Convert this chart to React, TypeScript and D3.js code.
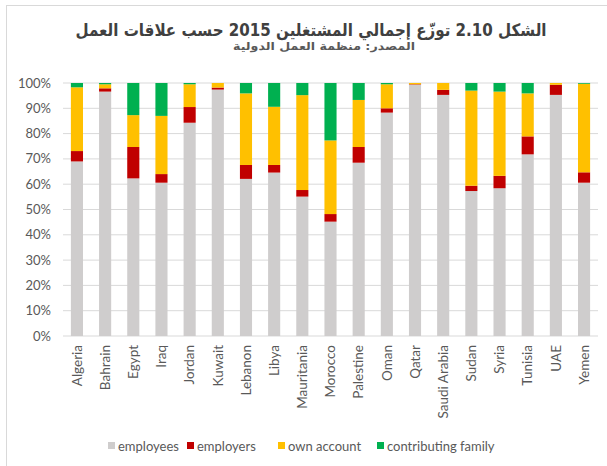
import React from "react";
import * as d3 from "d3";

const categories = ["Algeria","Bahrain","Egypt","Iraq","Jordan","Kuwait","Lebanon","Libya","Mauritania","Morocco","Palestine","Oman","Qatar","Saudi Arabia","Sudan","Syria","Tunisia","UAE","Yemen"];
const employees = [69.0,96.6,62.3,60.6,84.3,97.4,62.1,64.6,55.1,45.2,68.5,88.3,99.3,95.3,57.3,58.4,71.8,95.3,60.6];
const employers = [4.1,1.3,12.4,3.4,6.2,0.8,5.5,3.0,2.6,3.0,6.2,1.7,0.2,2.0,2.1,4.9,7.1,4.0,4.1];
const ownAccount = [25.2,1.6,12.6,23.0,9.0,1.8,28.3,23.0,37.5,29.1,18.6,9.5,0.5,2.7,37.6,33.3,17.0,0.7,35.0];
const contributingFamily = [1.7,0.5,12.7,13.0,0.5,0.0,4.1,9.4,4.8,22.7,6.7,0.5,0.0,0.0,3.0,3.4,4.1,0.0,0.3];
const seriesNames = ["employees","employers","own account","contributing family"];
const seriesColors = ["#CFCDCD","#C00000","#FFC000","#00B050"];
const yTicks = [0,10,20,30,40,50,60,70,80,90,100];
const titleText = "الشكل 2.10 توزّع إجمالي المشتغلين 2015 حسب علاقات العمل";
const subtitleText = "المصدر: منظمة العمل الدولية";

const W = 607, H = 466;

export default function App() {
  const x = d3.scaleBand<string>().domain(categories).range([63, 598]).paddingInner(0.57).paddingOuter(0.28);
  const y = d3.scaleLinear().domain([0, 100]).range([336, 83]);
  const rows = categories.map((c, i) => ({
    cat: c,
    employees: employees[i],
    employers: employers[i],
    "own account": ownAccount[i],
    "contributing family": contributingFamily[i],
  }));
  const stacked = d3.stack<any>().keys(seriesNames)(rows);
  const textColor = "#595959";
  const font = "Lato, 'Open Sans', sans-serif";
  const legendX = [108, 187, 278, 377];
  return (
    <div>
      <style>{`body{margin:0;}`}</style>
      <svg width={W} height={H} style={{ display: "block", background: "#fff" }}>
        <rect x={6.5} y={5.5} width={W + 10} height={H + 10} fill="#fff" stroke="#D9D9D9" strokeWidth={1} />
        <text x={311} y={36} textAnchor="middle" direction="rtl" textLength={471} lengthAdjust="spacingAndGlyphs" fontFamily="'DejaVu Sans', sans-serif" fontWeight="bold" fontSize={17} fill="#404040">{titleText}</text>
        <text x={324} y={50} textAnchor="middle" direction="rtl" textLength={182} lengthAdjust="spacingAndGlyphs" fontFamily="'DejaVu Sans', sans-serif" fontWeight="bold" fontSize={11} fill="#595959">{subtitleText}</text>
        {yTicks.map((t) => (
          <g key={t}>
            <line x1={63} x2={598} y1={y(t)} y2={y(t)} stroke="#D9D9D9" strokeWidth={1} />
            <text x={51} y={y(t)} dy="0.35em" textAnchor="end" fontFamily={font} fontSize={13} fill={textColor}>{t}%</text>
          </g>
        ))}
        {stacked.map((s, si) => (
          <g key={s.key} fill={seriesColors[si]}>
            {s.map((d, i) => (
              <rect key={i} x={x(categories[i])} width={x.bandwidth()} y={y(d[1])} height={Math.max(0, y(d[0]) - y(d[1]))} />
            ))}
          </g>
        ))}
        {categories.map((c) => {
          const cx = (x(c) as number) + x.bandwidth() / 2;
          return (
            <text key={c} transform={`translate(${cx},345) rotate(-90)`} dy="0.35em" textAnchor="end" fontFamily={font} fontSize={13.5} fill={textColor}>{c}</text>
          );
        })}
        {seriesNames.map((n, i) => (
          <g key={n}>
            <rect x={legendX[i]} y={442} width={7} height={7} fill={seriesColors[i]} />
            <text x={legendX[i] + 10} y={446} dy="0.35em" fontFamily={font} fontSize={13} fill={textColor}>{n}</text>
          </g>
        ))}
      </svg>
    </div>
  );
}
